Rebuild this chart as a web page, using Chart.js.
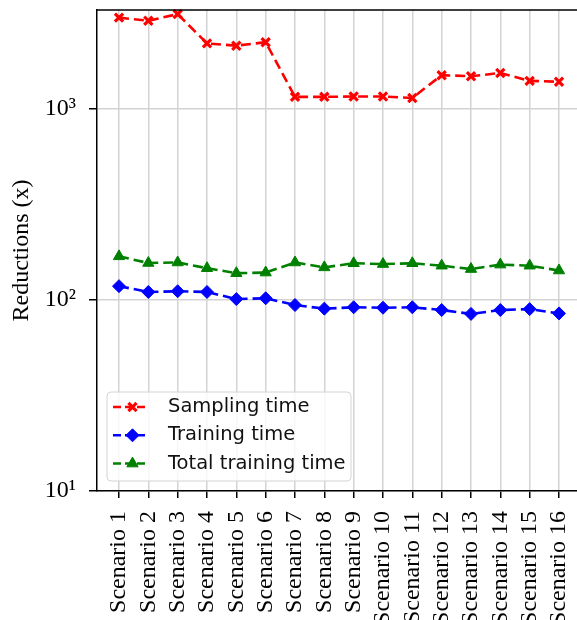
<!DOCTYPE html>
<html>
<head>
<meta charset="utf-8">
<script src="https://cdn.jsdelivr.net/npm/chart.js@4/dist/chart.umd.min.js"></script>
<style>
  html, body { margin: 0; padding: 0; background: #fff; overflow: hidden; }
  #wrap { width: 590px; height: 620px; }
</style>
</head>
<body>
<div id="wrap"><canvas id="c" width="590" height="620"></canvas></div>
<script>
// Scenario labels along the x axis
const categories = [
  'Scenario 1', 'Scenario 2', 'Scenario 3', 'Scenario 4',
  'Scenario 5', 'Scenario 6', 'Scenario 7', 'Scenario 8',
  'Scenario 9', 'Scenario 10', 'Scenario 11', 'Scenario 12',
  'Scenario 13', 'Scenario 14', 'Scenario 15', 'Scenario 16'
];

// Reduction factors (x) per scenario
const samplingTime = [3000, 2890, 3130, 2200, 2140, 2230, 1155, 1155, 1160, 1160, 1140, 1500, 1480, 1540, 1400, 1385];
const trainingTime = [118, 110, 111, 110, 101, 102, 94, 90, 91.5, 91, 91.5, 88.5, 84.5, 88.5, 89.5, 85];
const totalTrainingTime = [169, 156, 157, 146.5, 138, 139, 157, 148, 155.5, 154, 155.5, 151, 145, 153, 151, 142.5];

// Log-axis decades and their labels
const yTickValues = [10, 100, 1000];
const yTickLabels = ['10\u00B9', '10\u00B2', '10\u00B3'];

const serif = "'Liberation Serif', 'Times New Roman', serif";
const sans = "'DejaVu Sans', sans-serif";

function toPoints(values) {
  return values.map((v, i) => ({ x: i + 1, y: v }));
}

// Black frame line along the top of the plot area
const topSpine = {
  id: 'topSpine',
  afterDraw(chart) {
    const { ctx, chartArea: a } = chart;
    ctx.save();
    ctx.strokeStyle = '#000';
    ctx.lineWidth = 1.5;
    ctx.beginPath();
    ctx.moveTo(a.left, a.top);
    ctx.lineTo(a.right + 2, a.top);
    ctx.stroke();
    ctx.restore();
  }
};

// Legend box in the lower-left of the plot, dashed sample line with marker
const boxLegend = {
  id: 'boxLegend',
  afterDraw(chart) {
    const { ctx, chartArea: a } = chart;
    const sets = chart.data.datasets;
    const x0 = a.left + 10, y0 = a.bottom - 99, w = 244, h = 89, rowH = 28.3;
    ctx.save();
    ctx.fillStyle = 'rgba(255,255,255,0.82)';
    ctx.strokeStyle = '#d4d4d4';
    ctx.lineWidth = 1;
    ctx.beginPath();
    ctx.roundRect(x0, y0, w, h, 4);
    ctx.fill();
    ctx.stroke();
    sets.forEach((ds, i) => {
      const cy = y0 + 15 + i * rowH;
      ctx.strokeStyle = ds.borderColor;
      ctx.lineWidth = 2.5;
      ctx.setLineDash([8, 4]);
      ctx.beginPath();
      ctx.moveTo(x0 + 6, cy);
      ctx.lineTo(x0 + 42, cy);
      ctx.stroke();
      ctx.setLineDash([]);
      ctx.fillStyle = ds.pointBackgroundColor;
      ctx.strokeStyle = ds.pointBorderColor;
      ctx.lineWidth = ds.pointBorderWidth;
      Chart.helpers.drawPoint(ctx, {
        pointStyle: ds.pointStyle,
        radius: ds.pointRadius,
        borderWidth: ds.pointBorderWidth
      }, x0 + 25.5, cy);
      ctx.fillStyle = '#111';
      ctx.font = '19.5px ' + sans;
      ctx.textBaseline = 'middle';
      ctx.textAlign = 'left';
      ctx.fillText(ds.label, x0 + 61, cy);
    });
    ctx.restore();
  }
};

function makeSet(label, values, color, style, radius, bw) {
  return {
    label,
    data: toPoints(values),
    borderColor: color,
    backgroundColor: color,
    borderWidth: 2.6,
    borderDash: [10, 5],
    pointStyle: style,
    pointRadius: radius,
    pointHoverRadius: radius,
    pointBorderWidth: bw,
    pointBackgroundColor: color,
    pointBorderColor: color,
    tension: 0,
    clip: false
  };
}

new Chart(document.getElementById('c'), {
  type: 'line',
  data: {
    datasets: [
      makeSet('Sampling time', samplingTime, '#ff0000', 'crossRot', 5.8, 3.2),
      makeSet('Training time', trainingTime, '#0000ff', 'rectRot', 6.5, 1),
      makeSet('Total training time', totalTrainingTime, '#008000', 'triangle', 6.5, 1)
    ]
  },
  options: {
    responsive: false,
    animation: false,
    devicePixelRatio: 1,
    layout: { padding: { top: 10, right: 9, left: 0, bottom: 0 } },
    plugins: { legend: { display: false }, tooltip: { enabled: false } },
    scales: {
      x: {
        type: 'linear',
        min: 0.25,
        max: 16.75,
        afterBuildTicks(scale) {
          scale.ticks = categories.map((c, i) => ({ value: i + 1 }));
        },
        afterFit(scale) {
          scale.height = 129;
          scale.paddingLeft = 0; scale.paddingRight = 0;
        },
        ticks: {
          autoSkip: false,
          minRotation: 90,
          maxRotation: 90,
          padding: 13,
          color: '#000',
          font: { family: serif, size: 24 },
          callback: (v) => categories[v - 1]
        },
        grid: {
          color: '#d3d3d3',
          lineWidth: 1.5,
          drawTicks: true,
          tickLength: 7,
          tickColor: '#000',
          tickWidth: 1.5
        },
        border: { color: '#000', width: 1.5 }
      },
      y: {
        type: 'logarithmic',
        min: 10,
        max: 3289,
        afterBuildTicks(scale) {
          scale.ticks = yTickValues.map(v => ({ value: v, major: true }));
        },
        afterFit(scale) {
          scale.width = 97;
          scale.paddingTop = 0; scale.paddingBottom = 0;
        },
        ticks: {
          padding: 13,
          color: '#000',
          font: { family: serif, size: 24 },
          callback: (v) => {
            const k = yTickValues.indexOf(v);
            return k >= 0 ? yTickLabels[k] : '';
          }
        },
        grid: {
          color: '#d3d3d3',
          lineWidth: 1.5,
          tickLength: 8,
          tickColor: '#000',
          tickWidth: 1.5
        },
        border: { color: '#000', width: 1.5 },
        title: {
          display: true,
          text: 'Reductions (x)',
          color: '#000',
          font: { family: serif, size: 24 },
          padding: { top: 7, bottom: 0 }
        }
      }
    }
  },
  plugins: [topSpine, boxLegend]
});
</script>
</body>
</html>
